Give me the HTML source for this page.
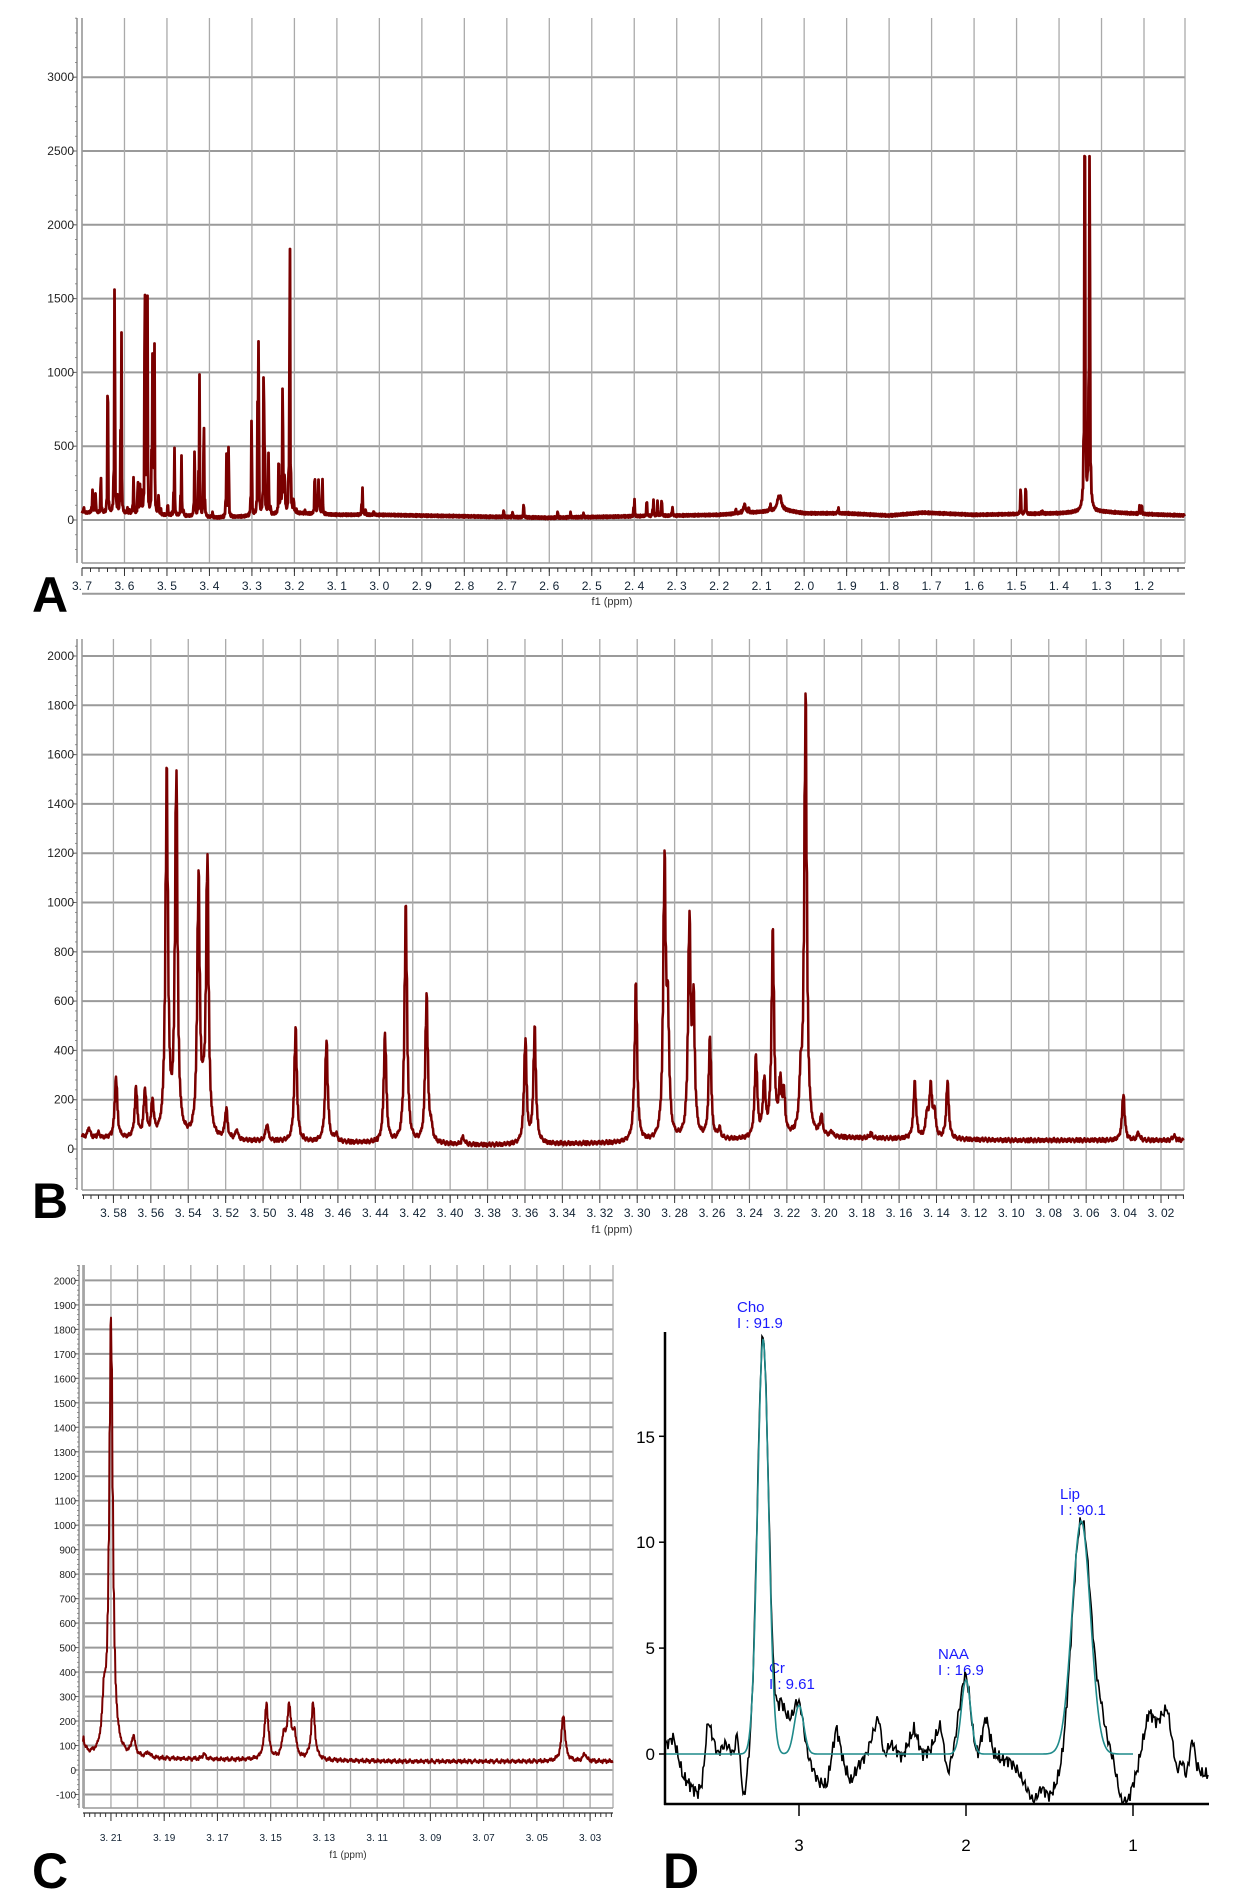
<!DOCTYPE html>
<html><head><meta charset="utf-8"><style>
html,body{margin:0;padding:0;background:#fff;}
svg{display:block;}
text{font-family:"Liberation Sans",sans-serif;}
</style></head><body>
<svg id="s" width="1240" height="1890" viewBox="0 0 1240 1890" xmlns="http://www.w3.org/2000/svg">
<text x="50" y="612" font-size="50" font-weight="bold" text-anchor="middle" fill="#000">A</text>
<text x="50" y="1218" font-size="50" font-weight="bold" text-anchor="middle" fill="#000">B</text>
<text x="50" y="1888" font-size="50" font-weight="bold" text-anchor="middle" fill="#000">C</text>
<text x="681" y="1888" font-size="50" font-weight="bold" text-anchor="middle" fill="#000">D</text>
<text x="612" y="605" font-size="11" text-anchor="middle" fill="#333" font-family="Liberation Serif">f1 (ppm)</text>
<text x="612" y="1233" font-size="11" text-anchor="middle" fill="#333" font-family="Liberation Serif">f1 (ppm)</text>
<text x="348" y="1858" font-size="10" text-anchor="middle" fill="#333" font-family="Liberation Serif">f1 (ppm)</text>
<g fill="#1a1aff" font-size="15">
<text x="737" y="1312">Cho</text><text x="737" y="1328">I : 91.9</text>
<text x="769" y="1673">Cr</text><text x="769" y="1689">I : 9.61</text>
<text x="938" y="1659">NAA</text><text x="938" y="1675">I : 16.9</text>
<text x="1060" y="1499">Lip</text><text x="1060" y="1515">I : 90.1</text>
</g>
<g font-size="17" fill="#000" text-anchor="end">
<text x="655" y="1443">15</text><text x="655" y="1548">10</text><text x="655" y="1654">5</text><text x="655" y="1760">0</text>
</g>
<g font-size="17" fill="#000" text-anchor="middle">
<text x="799" y="1851">3</text><text x="966" y="1851">2</text><text x="1133" y="1851">1</text>
</g>
</svg>
<script>
var S=document.getElementById('s'),NS='http://www.w3.org/2000/svg';
function el(t,a,p){var e=document.createElementNS(NS,t);for(var k in a)e.setAttribute(k,a[k]);(p||S).appendChild(e);return e;}
function interp(pts,p){
 if(p>=pts[0][0])return pts[0][1];
 for(var i=1;i<pts.length;i++){if(p>=pts[i][0]){var a=pts[i-1],b=pts[i],t=(a[0]-p)/(a[0]-b[0]);return a[1]+(b[1]-a[1])*t;}}
 return pts[pts.length-1][1];}
var base=[[3.75,55],[3.6,40],[3.5,30],[3.45,25],[3.38,15],[3.3,25],[3.2,45],[3.1,35],[3.0,35],[2.8,25],[2.6,15],[2.4,25],[2.2,35],[2.1,55],[2.05,70],[2.0,45],[1.9,45],[1.8,30],[1.72,50],[1.6,35],[1.4,45],[1.33,55],[1.3,55],[1.2,40],[1.1,30]];
var W=0.0008;
var pk=[[3.695,30],[3.675,150,.001],[3.668,130],[3.655,230],[3.639,790],[3.623,1530],[3.6075,1240],[3.617,100],
[3.593,40],[3.588,20],[3.5785,250],[3.5678,200],[3.563,190],[3.559,140],[3.5514,1460],[3.5463,1460],[3.5344,1050],[3.5297,1120],[3.532,100],[3.5196,120],[3.514,40],[3.4978,70],
[3.4825,460],[3.466,410],[3.461,30],[3.4347,440],[3.4236,960],[3.4125,600],[3.410,50],[3.393,30],[3.3597,420],[3.3547,460],[3.3006,640],[3.2853,1100],[3.2835,450],
[3.272,860],[3.2698,520],[3.261,410],[3.256,40],[3.2364,330],[3.232,220],[3.2274,820],[3.2235,200],[3.2215,160],[3.2125,190],[3.2099,1790],[3.2015,80],[3.196,20],[3.175,20],
[3.1515,230],[3.145,90],[3.143,210],[3.141,100],[3.134,230],[3.04,190],[3.032,30],[3.013,20],
[2.707,40],[2.686,30],[2.66,80],[2.58,40],[2.55,30],[2.52,25],[2.40,110],[2.37,90],[2.355,110],[2.345,100],[2.335,100],[2.31,60],[2.16,30],[2.14,60,.003],[2.13,30],[2.08,40],[2.06,70,.004],[2.055,60,.003],[1.92,35],[1.49,160],[1.478,160],[1.44,15],[1.339,2400,.0012],[1.328,2390,.0012],[1.21,55],[1.205,55]];
function spec(p){var v=interp(base,p);for(var i=0;i<pk.length;i++){var w=pk[i][2]||W,d=(p-pk[i][0])/w;v+=pk[i][1]/(1+d*d);}
 v+=4*Math.sin(p*3100)+3*Math.sin(p*7700+1)+2*Math.sin(p*19000);return v;}
function panel(c){
 var g=el('g',{});
 var px=function(p){return c.x0+(c.pL-p)/(c.pL-c.pR)*(c.x1-c.x0);};
 var py=function(v){return c.y0-v*c.k;};
 for(var v=c.gv0;v<=c.gv1+1e-9;v+=c.gvs){var y=py(v);el('line',{x1:c.x0,x2:c.x1,y1:y,y2:y,stroke:'#9a9a9a','stroke-width':2},g);}
 for(var p=c.gp0;p>=c.gp1-1e-9;p-=c.gps){var x=px(p);el('line',{x1:x,x2:x,y1:c.top,y2:c.bot,stroke:'#aaa','stroke-width':1.3},g);}
 el('line',{x1:c.x1,x2:c.x1,y1:c.top,y2:c.bot,stroke:'#aaa','stroke-width':1.3},g);
 el('line',{x1:c.x0,x2:c.x0,y1:c.top,y2:c.bot,stroke:'#999','stroke-width':1.5},g);
 el('line',{x1:c.x0,x2:c.x1,y1:c.bot,y2:c.bot,stroke:'#999','stroke-width':1.5},g);
 el('line',{x1:c.ax,x2:c.ax,y1:c.top,y2:c.bot,stroke:'#555','stroke-width':1},g);
 for(var v=c.yl0;v<=c.yl1+1e-9;v+=c.yls){var y=py(v);el('line',{x1:c.ax-4,x2:c.ax,y1:y,y2:y,stroke:'#555'},g);
  var t=el('text',{x:c.ax-3,y:y+4,'font-size':c.fs,'text-anchor':'end',fill:'#222','font-family':'Liberation Serif'},g);t.textContent=Math.round(v);}
 for(var v=c.yl0-c.yls;v<=c.yl1+c.yls;v+=c.yls/5){var y=py(v);if(y>c.top&&y<c.bot)el('line',{x1:c.ax-2,x2:c.ax,y1:y,y2:y,stroke:'#777','stroke-width':.8},g);}
 var ay=c.bot+5;el('line',{x1:c.x0,x2:c.x1,y1:ay,y2:ay,stroke:'#333','stroke-width':1.3},g);
 for(var p=c.mp0;p>=c.pR;p-=c.mps){var x=px(p);el('line',{x1:x,x2:x,y1:ay,y2:ay+4,stroke:'#333'},g);}
 for(var i=0;i<c.xl.length;i++){var x=px(c.xl[i]);el('line',{x1:x,x2:x,y1:ay,y2:ay+8,stroke:'#333'},g);
  var t=el('text',{x:x,y:ay+22+(c.ldy||0),'font-size':c.fs,'text-anchor':'middle',fill:'#123','font-family':'Liberation Serif'},g);t.textContent=c.xl[i].toFixed(c.dec).replace('.','. ');}
 var d='',prev=null;
 for(var X=c.x0;X<c.x1;X++){var mn=1e9,mx=-1e9;for(var s=0;s<12;s++){var p=c.pL-(X-c.x0+s/12)/(c.x1-c.x0)*(c.pL-c.pR);var v=spec(p);if(v<mn)mn=v;if(v>mx)mx=v;}
  var a=py(mx),b=py(mn);if(a<c.top)a=c.top;
  if(prev===null)d+='M'+X+' '+b.toFixed(1);
  if(prev!==null&&Math.abs(prev-a)<Math.abs(prev-b)){d+='L'+X+' '+a.toFixed(1)+'L'+(X+.5)+' '+b.toFixed(1);prev=b;}
  else{d+='L'+X+' '+b.toFixed(1)+'L'+(X+.5)+' '+a.toFixed(1);prev=a;}}
 el('path',{d:d,fill:'none',stroke:'#7a0000','stroke-width':c.lw,'stroke-linejoin':'round'},g);
}
function rng(a,b,s){var r=[];for(var p=a;p>=b-1e-9;p-=s)r.push(Math.round(p*1000)/1000);return r;}
panel({x0:82,x1:1185,pL:3.7,pR:1.1035,top:18,bot:563,y0:520,k:0.1476,gv0:-500,gv1:3000,gvs:500,gp0:3.7,gp1:1.2,gps:0.1,ax:77,yl0:0,yl1:3000,yls:500,fs:12,mp0:3.7,mps:0.02,xl:rng(3.7,1.2,0.1),dec:1,lw:2.8});
panel({x0:82,x1:1184,pL:3.5968,pR:3.0077,top:639,bot:1190,y0:1149,k:0.2465,gv0:0,gv1:2000,gvs:200,gp0:3.58,gp1:3.02,gps:0.02,ax:77,yl0:0,yl1:2000,yls:200,fs:12,mp0:3.596,mps:0.004,xl:rng(3.58,3.02,0.02),dec:2,lw:2.5});
panel({x0:83,x1:613,pL:3.2205,pR:3.0214,top:1265,bot:1808,y0:1770,k:0.2448,gv0:-100,gv1:2000,gvs:100,gp0:3.22,gp1:3.03,gps:0.01,ax:79,yl0:-100,yl1:2000,yls:100,fs:10,mp0:3.22,mps:0.002,xl:rng(3.21,3.03,0.02),dec:2,lw:2,ldy:6});
(function(){
 var px=function(p){return 799+(3-p)*167;},py=function(v){return 1754-v*21.18;};
 function g(p,c,h,s){var d=(p-c)/s;return h*Math.exp(-d*d/2);}
 function fit(p){return g(p,3.215,19.6,0.033)+g(p,3.0,2.3,0.028)+g(p,2.0,3.5,0.028)+g(p,1.31,11,0.055);}
 var r=[[3.81,0.3],[3.752,0.8],[3.695,-2],[3.65,-2.8],[3.607,-3.5],[3.579,-2.5],[3.545,1.6],[3.488,0],[3.44,0.5],[3.393,0],[3.369,1],[3.331,-4.2],[3.298,-1],[3.26,0.5],[3.2,0],[3.15,1],[3.107,2.5],[3.06,1.5],[3.0,0.1],[2.929,-1],[2.881,-2.5],[2.833,-2.8],[2.776,1.3],[2.729,-1],[2.69,-2.5],[2.643,-1],[2.595,0],[2.524,1.8],[2.49,-0.2],[2.452,0.5],[2.381,-0.3],[2.31,1.2],[2.262,0],[2.214,0.2],[2.152,1.4],[2.11,-1.8],[2.048,1],[1.99,0],[1.929,-0.2],[1.881,1.8],[1.833,0],[1.786,-0.5],[1.738,-0.6],[1.69,-1.5],[1.595,-4.3],[1.548,-3],[1.5,-3.8],[1.429,-2.5],[1.381,-1],[1.31,0],[1.19,1.5],[1.119,-0.5],[1.071,-4.2],[1.033,-4.3],[0.976,-1.5],[0.905,2],[0.857,1.5],[0.795,2.2],[0.738,-1.5],[0.705,-0.6],[0.681,-2],[0.643,0.8],[0.619,-1],[0.586,-1.8]];
 r.forEach(function(q){if(q[1]<0)q[1]*=0.53;});
 var db='',dt='';
 for(var X=666;X<=1208;X+=1){var p=3-(X-799)/167;var v=fit(p)+interp(r,p)+0.2*Math.sin(X*1.7)+0.15*Math.sin(X*3.1+2);
  if(v<-2.3)v=-2.3;db+=(X==666?'M':'L')+X+' '+py(v).toFixed(1);
  if(X<=1133){dt+=(X==666?'M':'L')+X+' '+py(fit(p)).toFixed(1);}}
 el('path',{d:db,fill:'none',stroke:'#000','stroke-width':1.6});
 el('path',{d:dt,fill:'none',stroke:'#1f8a8a','stroke-width':1.6});
 el('line',{x1:665,x2:665,y1:1332,y2:1805,stroke:'#000','stroke-width':2.5});
 el('line',{x1:664,x2:1209,y1:1804,y2:1804,stroke:'#000','stroke-width':2.5});
 [15,10,5,0].forEach(function(v){el('line',{x1:659,x2:665,y1:py(v),y2:py(v),stroke:'#000','stroke-width':1.5});});
 [3,2,1].forEach(function(v){el('line',{x1:px(v),x2:px(v),y1:1804,y2:1816,stroke:'#000','stroke-width':1.5});});
})();
</script>
</body></html>
